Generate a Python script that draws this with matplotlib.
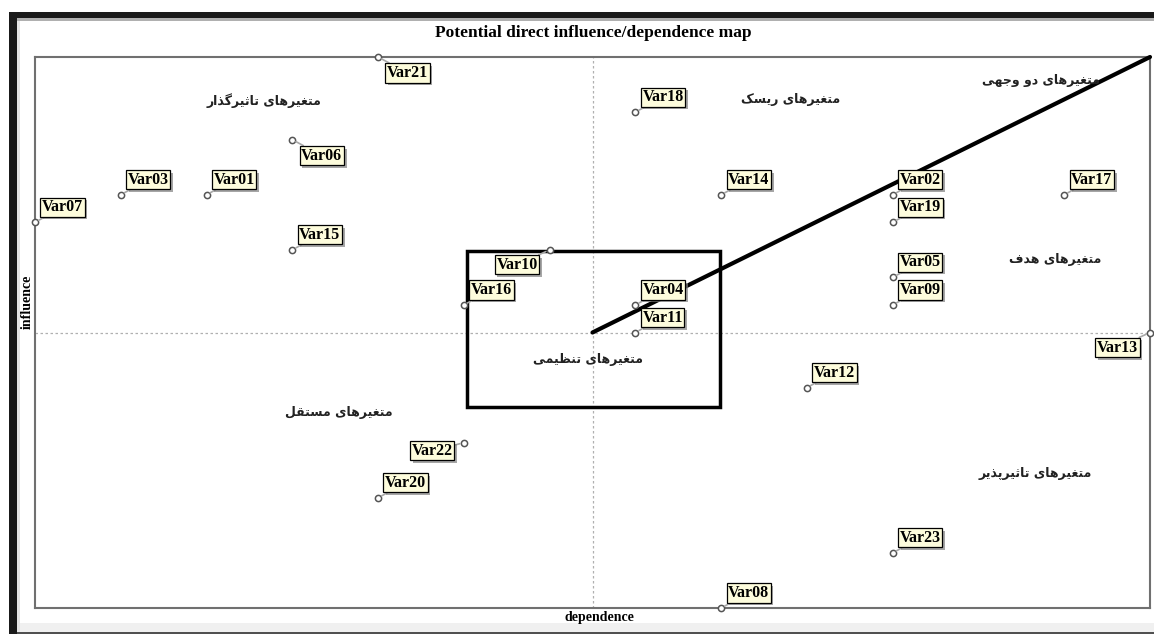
import matplotlib
matplotlib.use('Agg')
import matplotlib.pyplot as plt
from matplotlib import patheffects
from matplotlib.patches import Rectangle

# MICMAC potential direct influence/dependence values
names = ['Var01', 'Var02', 'Var03', 'Var04', 'Var05', 'Var06', 'Var07', 'Var08',
         'Var09', 'Var10', 'Var11', 'Var12', 'Var13', 'Var14', 'Var15', 'Var16',
         'Var17', 'Var18', 'Var19', 'Var20', 'Var21', 'Var22', 'Var23']
dependence = [2, 10, 1, 7, 10, 3, 0, 8, 10, 6, 7, 9, 13, 8, 3, 5, 12, 7, 10, 4, 4, 5, 10]
influence = [15, 15, 15, 11, 12, 17, 14, 0, 11, 13, 10, 8, 10, 15, 13, 11, 15, 18, 14, 4, 20, 6, 2]

# quadrant captions (Persian) and where they sit
captions = ['متغیرهای تاثیرگذار', 'متغیرهای ریسک', 'متغیرهای دو وجهی', 'متغیرهای هدف',
            'متغیرهای تنظیمی', 'متغیرهای مستقل', 'متغیرهای تاثیرپذیر']
caption_x = [2.67, 8.81, 11.73, 11.89, 6.45, 3.54, 11.66]
caption_y = [18.4, 18.44, 19.13, 12.65, 9.02, 7.09, 4.9]

x_lim = (0, 13)
y_lim = (0, 20)
x_mid, y_mid = 6.5, 10
box_x, box_y, box_w, box_h = 5.04, 7.31, 2.95, 5.64

# label side for each point, default is up-right
label_side = {'Var06': 'dr', 'Var21': 'dr', 'Var10': 'dl', 'Var13': 'dl', 'Var22': 'l'}

# presentation forms: isolated, final, initial, medial
FORMS = {
    0x0627: (0xFE8D, 0xFE8E), 0x062F: (0xFEA9, 0xFEAA), 0x0630: (0xFEAB, 0xFEAC),
    0x0631: (0xFEAD, 0xFEAE), 0x0648: (0xFEED, 0xFEEE),
    0x062A: (0xFE95, 0xFE96, 0xFE97, 0xFE98), 0x062B: (0xFE99, 0xFE9A, 0xFE9B, 0xFE9C),
    0x062C: (0xFE9D, 0xFE9E, 0xFE9F, 0xFEA0), 0x0633: (0xFEB1, 0xFEB2, 0xFEB3, 0xFEB4),
    0x0638: (0xFEC5, 0xFEC6, 0xFEC7, 0xFEC8), 0x063A: (0xFECD, 0xFECE, 0xFECF, 0xFED0),
    0x0641: (0xFED1, 0xFED2, 0xFED3, 0xFED4), 0x0642: (0xFED5, 0xFED6, 0xFED7, 0xFED8),
    0x0644: (0xFEDD, 0xFEDE, 0xFEDF, 0xFEE0), 0x0645: (0xFEE1, 0xFEE2, 0xFEE3, 0xFEE4),
    0x0646: (0xFEE5, 0xFEE6, 0xFEE7, 0xFEE8), 0x0647: (0xFEE9, 0xFEEA, 0xFEEB, 0xFEEC),
    0x067E: (0xFB56, 0xFB57, 0xFB58, 0xFB59), 0x06A9: (0xFB8E, 0xFB8F, 0xFB90, 0xFB91),
    0x06AF: (0xFB92, 0xFB93, 0xFB94, 0xFB95), 0x06CC: (0xFBFC, 0xFBFD, 0xFBFE, 0xFBFF),
}


def shape(text):
    # matplotlib has no arabic shaping, so pick joined forms and reverse by hand
    text = text.replace('\u064a', '\u06cc').replace('\u0643', '\u06a9').replace('\u200c', '')
    out = []
    for i, ch in enumerate(text):
        f = FORMS.get(ord(ch))
        if f is None:
            out.append(ch)
            continue
        prev = FORMS.get(ord(text[i - 1])) if i > 0 else None
        nxt = FORMS.get(ord(text[i + 1])) if i + 1 < len(text) else None
        join_prev = prev is not None and len(prev) == 4
        join_next = len(f) == 4 and nxt is not None
        if join_prev and join_next:
            out.append(chr(f[3]))
        elif join_prev:
            out.append(chr(f[1]))
        elif join_next:
            out.append(chr(f[2]))
        else:
            out.append(chr(f[0]))
    return ''.join(reversed(out))


W, H = 1154, 634
fig = plt.figure(figsize=(W / 100, H / 100), dpi=100)
fig.patch.set_facecolor('white')

# window frame bits around the screenshot
def px_rect(x0, y0, x1, y1, color):
    fig.patches.append(Rectangle((x0 / W, 1 - y1 / H), (x1 - x0) / W, (y1 - y0) / H,
                                 transform=fig.transFigure, facecolor=color,
                                 edgecolor='none', zorder=0))

px_rect(17, 623, W, 632, '#f0f0f0')
px_rect(17, 632, W, H, '#505050')
px_rect(17, 18, W, 21, '#b0b0b0')
px_rect(17, 21, 20, 632, '#e6e6e6')
px_rect(9, 12, W, 18, '#1a1a1a')
px_rect(9, 12, 17, H, '#1a1a1a')

ax = fig.add_axes([35 / W, 1 - 608 / H, (1150 - 35) / W, (608 - 57) / H])
ax.set_xlim(*x_lim)
ax.set_ylim(*y_lim)
ax.set_xticks([])
ax.set_yticks([])
for s in ax.spines.values():
    s.set_color('#707070')
    s.set_linewidth(1.5)

ax.axvline(x_mid, color='#b0b0b0', lw=0.9, ls=(0, (2, 2)), zorder=1)
ax.axhline(y_mid, color='#b0b0b0', lw=0.9, ls=(0, (2, 2)), zorder=1)

ax.add_patch(Rectangle((box_x, box_y), box_w, box_h, fill=False,
                       edgecolor='black', lw=2.5, zorder=3))
ax.plot([x_mid, x_lim[1]], [y_mid, y_lim[1]], color='black', lw=3,
        solid_capstyle='round', clip_on=False, zorder=4)

ax.scatter(dependence, influence, s=20, facecolor='white', edgecolor='#555555',
           linewidth=1.1, zorder=6, clip_on=False)

offsets = {'ur': ((7, 7), 'left', 'bottom'), 'dr': ((9, -8), 'left', 'top'),
           'dl': ((-12, -7), 'right', 'top'), 'l': ((-11, 0), 'right', 'top')}
shadow = [patheffects.SimplePatchShadow(offset=(1.8, -1.8), shadow_rgbFace='#808080', alpha=0.7),
          patheffects.Normal()]

for name, x, y in zip(names, dependence, influence):
    (dx, dy), ha, va = offsets[label_side.get(name, 'ur')]
    t = ax.annotate(name, (x, y), xytext=(dx * 0.72, dy * 0.72), textcoords='offset points',
                    ha=ha, va=va, fontsize=11.5, fontweight='bold', family='Liberation Serif',
                    bbox=dict(boxstyle='square,pad=0.1', facecolor='#fdfcdc',
                              edgecolor='black', lw=0.9),
                    arrowprops=dict(arrowstyle='-', color='#a8a8a8', lw=1.2,
                                    shrinkA=0, shrinkB=3),
                    zorder=7, annotation_clip=False)
    t.get_bbox_patch().set_path_effects(shadow)

for txt, x, y in zip(captions, caption_x, caption_y):
    ax.text(x, y, shape(txt), ha='center', va='center', fontsize=9,
            family='DejaVu Sans', fontweight='bold', color='#222222', zorder=5)

fig.text(593 / W, 1 - 33 / H, 'Potential direct influence/dependence map', ha='center',
         va='center', fontsize=12.5, fontweight='bold', family='Liberation Serif')
fig.text(27 / W, 1 - 302 / H, 'influence', rotation=90, ha='center', va='center',
         fontsize=10, fontweight='bold', family='Liberation Serif')
fig.text(599 / W, 1 - 617 / H, 'dependence', ha='center', va='center',
         fontsize=10, fontweight='bold', family='Liberation Serif')

fig.savefig('out.png', dpi=100)
